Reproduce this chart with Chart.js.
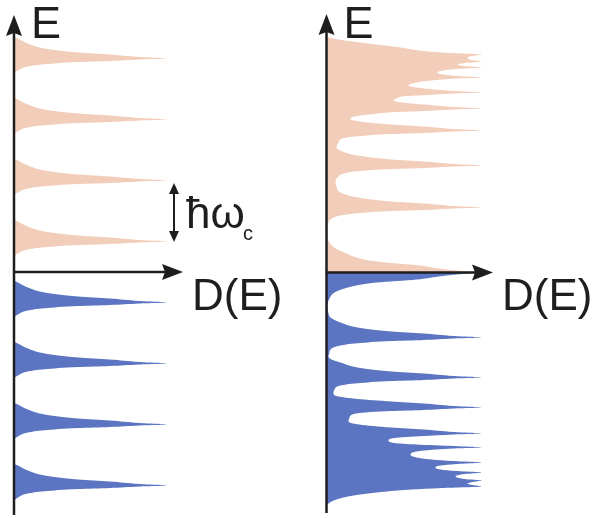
<!DOCTYPE html>
<html>
<head>
<meta charset="utf-8">
<script src="https://cdn.jsdelivr.net/npm/chart.js@4"></script>
<style>
  body { margin: 0; background: #fff; }
  #wrap { position: relative; width: 596px; height: 518px; }
  canvas { position: absolute; top: 0; }
  #left { left: 0; }
  #right { left: 298px; }
</style>
</head>
<body>
<div id="wrap">
  <canvas id="left" width="298" height="518"></canvas>
  <canvas id="right" width="298" height="518"></canvas>
</div>
<script>
// E in meV (hbar*omega_c = 61 meV on the left), D(E) in arbitrary units

// left: equally spaced Landau levels, one peak profile
const leftLevels = [-213.5, -152.5, -91.5, -30.5, 30.5, 91.5, 152.5, 213.5];
const peakShape = [155, 127, 97, 65, 31, 14, 4, 0];
const upperOffsets = [0, 1.5, 4, 6, 10, 15, 20, 22];
const lowerOffsets = [0, 1, 2.5, 3.6, 5.8, 8, 12, 15];

// right: levels bunching up away from E = 0
const rightBlueE = [-233, -231, -227, -223, -219, -217, -215.5, -214,
  -212.5, -211, -209.5, -208, -206.5, -204, -201.5, -200,
  -198.5, -197, -195, -193, -191.5, -190,
  -188.5, -187, -185, -182.5, -180, -178, -176, -175,
  -173.5, -172, -170.5, -168, -165.5, -163.5, -162, -161,
  -159.5, -157, -155, -152, -149, -145, -140.8, -138.6, -137.5, -136, -135,
  -133.5, -131, -129, -126.5, -124, -121, -117, -113, -110.8, -108.6, -107.5, -106, -105,
  -103.5, -101, -99, -95, -90, -87, -84, -80, -77, -73, -70.8, -68.6, -67.5, -66, -65,
  -63.5, -61, -59, -55, -50, -45, -41, -33, -26, -20, -16, -12, -10, -7, -4, -2, 0];
const rightBlueD = [0, 2, 10, 27, 60, 85, 115, 155,
  146, 141, 146, 155, 138, 129, 138, 155,
  130, 114, 109, 114, 130, 155,
  127, 105, 90, 84, 86, 98, 127, 155,
  127, 90, 68, 62, 68, 97, 127, 155,
  127, 97, 65, 33, 22, 23, 31, 65, 97, 127, 155,
  127, 97, 65, 31, 12, 7, 8, 14, 31, 65, 97, 127, 155,
  127, 97, 65, 31, 14, 5, 2, 3, 4, 14, 31, 65, 97, 127, 155,
  127, 97, 65, 31, 14, 4, 2, 1, 3, 8, 18, 35, 50, 90, 112, 130, 155];
const rightSalmonE = [0, 2, 4, 7, 10, 12, 16, 19, 24, 30, 36, 46, 50, 53, 57, 59.2, 61.4, 62.5, 64, 65,
  66.5, 69, 71, 75, 80, 86, 92, 96, 99, 101.2, 103.4, 104.5, 106, 107,
  108.5, 111, 113, 117, 121, 125, 130, 134, 136.2, 138.4, 139.5, 141, 142,
  143.5, 146, 148, 151, 153.5, 156, 158.2, 160.4, 161.5, 163, 164,
  165.5, 168, 170, 172, 174, 176.4, 177.5, 179, 180,
  181.5, 184, 187, 189, 191.5, 193, 194, 195,
  196.5, 198.5, 200, 201.5, 203.5, 205,
  206.5, 208, 209.5, 211,
  212.5, 214.5, 216.5, 218,
  219.5, 221, 223, 225, 228, 231, 233, 235, 236];
const rightSalmonD = [155, 130, 112, 94, 60, 43, 27, 20, 9, 3, 1, 1, 2, 4, 14, 31, 65, 97, 127, 155,
  127, 97, 65, 31, 14, 10, 9, 12, 17, 31, 65, 97, 127, 155,
  127, 97, 65, 31, 16, 10, 12, 16, 31, 65, 97, 127, 155,
  127, 97, 65, 33, 24, 28, 45, 70, 97, 127, 155,
  127, 97, 75, 67, 70, 80, 100, 127, 155,
  127, 98, 82, 86, 100, 115, 130, 155,
  130, 114, 111, 114, 130, 155,
  138, 131, 138, 155,
  145, 141, 145, 155,
  125, 102, 86, 74, 50, 26, 12, 3, 0];

const salmon = '#f2cdb9';
const blue = '#5b75c2';
const ink = '#1e1e1e';
const font = '"Liberation Sans", Arial, sans-serif';

function levelPoints(levels) {
  const pts = [];
  levels.forEach(e0 => {
    for (let i = lowerOffsets.length - 1; i > 0; i--) pts.push({x: peakShape[i], y: e0 - lowerOffsets[i]});
    pts.push({x: peakShape[0], y: e0});
    for (let i = 1; i < upperOffsets.length; i++) pts.push({x: peakShape[i], y: e0 + upperOffsets[i]});
  });
  return pts;
}

function zipPoints(es, ds) {
  return es.map((e, i) => ({x: ds[i], y: e}));
}

function band(points, color) {
  return {
    data: points,
    backgroundColor: color,
    borderWidth: 0,
    pointRadius: 0,
    cubicInterpolationMode: 'monotone',
    fill: 'origin'
  };
}

function arrowUp(ctx, x, y) {
  ctx.beginPath();
  ctx.moveTo(x, y);
  ctx.lineTo(x + 8, y + 21);
  ctx.lineTo(x, y + 18);
  ctx.lineTo(x - 8, y + 21);
  ctx.closePath();
  ctx.fill();
}

function arrowRight(ctx, x, y) {
  ctx.beginPath();
  ctx.moveTo(x, y);
  ctx.lineTo(x - 21, y - 8);
  ctx.lineTo(x - 18, y);
  ctx.lineTo(x - 21, y + 8);
  ctx.closePath();
  ctx.fill();
}

const axesPlugin = {
  id: 'axesArrows',
  afterDatasetsDraw(chart, args, opts) {
    const ctx = chart.ctx;
    const xs = chart.scales.x, ys = chart.scales.y;
    const x0 = xs.getPixelForValue(0);
    const y0 = ys.getPixelForValue(0);
    const top = chart.chartArea.top;
    const bottom = chart.chartArea.bottom - 1;
    const xEnd = xs.getPixelForValue(opts.dLength);
    ctx.save();
    ctx.strokeStyle = ink;
    ctx.fillStyle = ink;
    ctx.lineWidth = 2.5;
    ctx.beginPath();
    ctx.moveTo(x0, bottom);
    ctx.lineTo(x0, top + 16);
    ctx.moveTo(x0, y0);
    ctx.lineTo(xEnd - 16, y0);
    ctx.stroke();
    arrowUp(ctx, x0, top);
    arrowRight(ctx, xEnd, y0);

    ctx.font = '45px ' + font;
    ctx.textBaseline = 'alphabetic';
    ctx.fillText('E', x0 + 17, 38);
    ctx.font = '44px ' + font;
    ctx.fillText('D(E)', xEnd + 9, 310);

    if (opts.spacing) {
      // level spacing marker between two peaks
      const ax = 174, a1 = 183, a2 = 242;
      ctx.lineWidth = 2;
      ctx.beginPath();
      ctx.moveTo(ax, a1 + 8);
      ctx.lineTo(ax, a2 - 8);
      ctx.stroke();
      ctx.beginPath();
      ctx.moveTo(ax, a1); ctx.lineTo(ax + 5, a1 + 11); ctx.lineTo(ax - 5, a1 + 11); ctx.closePath();
      ctx.moveTo(ax, a2); ctx.lineTo(ax + 5, a2 - 11); ctx.lineTo(ax - 5, a2 - 11); ctx.closePath();
      ctx.fill();
      ctx.font = '44px ' + font;
      ctx.fillText('\u0127\u03c9', 186, 228);
      ctx.font = '20px ' + font;
      ctx.fillText('c', 243, 240);
    }
    ctx.restore();
  }
};

function makeChart(id, datasets, pad, xMax, yMin, yMax, axisOpts) {
  return new Chart(document.getElementById(id), {
    type: 'line',
    data: { datasets },
    options: {
      responsive: false,
      animation: false,
      indexAxis: 'y',
      layout: { padding: pad },
      scales: {
        x: { type: 'linear', min: 0, max: xMax, display: false },
        y: { type: 'linear', min: yMin, max: yMax, display: false }
      },
      plugins: {
        legend: { display: false },
        tooltip: { enabled: false },
        axesArrows: axisOpts
      }
    },
    plugins: [axesPlugin]
  });
}

makeChart('left', [
  band(levelPoints(leftLevels.filter(e => e < 0)), blue),
  band(levelPoints(leftLevels.filter(e => e > 0)), salmon)
], {left: 14, top: 15, right: 0, bottom: 2}, 287.7, -244, 257, {dLength: 171.2, spacing: true});

makeChart('right', [
  band(zipPoints(rightBlueE, rightBlueD), blue),
  band(zipPoints(rightSalmonE, rightSalmonD), salmon)
], {left: 28.5, top: 14, right: 0, bottom: 4}, 269.5, -241.5, 258.5, {dLength: 166.5, spacing: false});
</script>
</body>
</html>
